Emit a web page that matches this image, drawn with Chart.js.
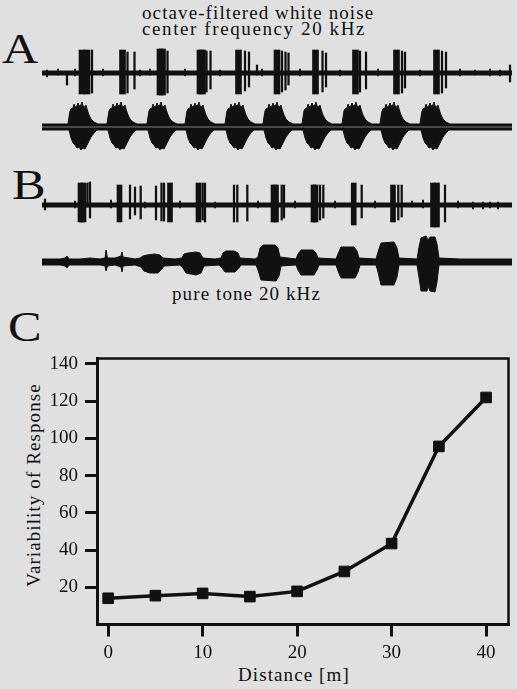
<!DOCTYPE html>
<html><head><meta charset="utf-8">
<script src="https://cdn.jsdelivr.net/npm/chart.js@4"></script>
<style>
html,body{margin:0;padding:0;background:#e0e0e0;}
#page{position:relative;width:517px;height:689px;overflow:hidden;background:#e0e0e0;font-family:"Liberation Serif",serif;color:#111;}
canvas{position:absolute;left:0;}
.t{position:absolute;white-space:nowrap;font-size:19px;line-height:19px;letter-spacing:1.1px;}
.big{position:absolute;font-size:42px;line-height:42px;transform:scaleX(1.2);transform-origin:0 0;}
</style></head>
<body><div id="page">
<div class="t" style="left:142px;top:3px">octave-filtered white noise</div>
<div class="t" style="left:142px;top:19px;letter-spacing:1.6px">center frequency 20 kHz</div>
<div class="big" style="left:2px;top:28px">A</div>
<div class="big" style="left:12px;top:164px">B</div>
<div class="t" style="left:172px;top:284px">pure tone 20 kHz</div>
<div class="big" style="left:8px;top:306px">C</div>
<div class="t" style="left:238px;top:665px">Distance [m]</div>
<div class="t" style="left:32.6px;top:484.5px;transform:translate(-50%,-50%) rotate(-90deg)">Variability of Response</div>
<canvas id="a1" width="517" height="56" style="top:44px"></canvas>
<canvas id="a2" width="517" height="65" style="top:95px"></canvas>
<canvas id="b1" width="517" height="60" style="top:175px"></canvas>
<canvas id="b2" width="517" height="72" style="top:228px"></canvas>
<canvas id="c" width="517" height="349" style="top:340px"></canvas>
</div>
<script>
// ---- Panel C data ----
const distances = [0, 5, 10, 15, 20, 25, 30, 35, 40];
const variability = [14.1, 15.5, 16.7, 15.0, 17.8, 28.5, 43.5, 95.7, 122];
const xTickValues = [0, 10, 20, 30, 40];
const yTickValues = [20, 40, 60, 80, 100, 120, 140];

// ---- Trace A1 (white noise, spike response): [time, low, high] ----
const a1Blocks = [[82,-21,23],[87,-21,23],[122.5,-21,23],[160,-22,24],[162.5,-22,24],[200,-21,23],[202.5,-21,23],[238.5,-21,23],[277,-21,23],[315.5,-21,23],[355.5,-21,23],[396.5,-21,23],[436.5,-21,23]];
const a1Spikes = [[67,-12,1],[92,-20,23],[127.5,-20,21],[134.5,-16,21],[167.5,-20,22],[206.5,-19,22],[210.5,-16,22],[245,-18,22],[249,-14,21],[257,-2,8],[282,-19,22],[285.5,-17,21],[288.5,-12,20],[322.5,-19,22],[326,-14,20],[360,-19,22],[366,-16,21],[402,-20,22],[405,-15,21],[442,-20,22],[446,-15,21],[510,-9,8]];
const a1Noise = [[47,-4,3],[58,-2,4],[75,-3,4],[103,-3,4],[140,-3,3],[150,-2,4],[185,-3,4],[220,-3,3],[262,-3,4],[300,-3,4],[340,-3,3],[378,-3,4],[420,-3,3],[460,-3,4],[475,-2,3],[490,-3,4],[500,-3,3]];

// ---- Trace A2 (white noise stimulus envelope) ----
const a2Onsets = [68, 107, 147, 185, 225, 263, 302, 342, 380, 420];
const a2UpperShape = [[0,3],[1,10],[2,16],[3,18],[5,19],[6,23],[7,20],[9,21],[10,24],[11,21],[13,22],[14,25],[15,21],[17,20],[18,22],[19,18],[21,12],[23,8],[26,5],[30,3]];
const a2LowerShape = [[0,-3],[2,-11],[4,-16],[6,-18],[8,-21],[10,-20],[12,-23],[14,-21],[16,-22],[18,-18],[20,-14],[22,-10],[25,-6],[28,-3]];

// ---- Trace B1 (pure tone, spike response) ----
const b1Blocks = [[80.5,-17,22],[83.5,-17,22],[119.5,-17,20],[170,-17,22],[198.5,-17,22],[273.5,-17,20],[276,-17,20],[313.5,-17,20],[315.5,-17,20],[353.7,-20,22],[393,-17,20],[433,-22,22],[437,-22,22]];
const b1Spikes = [[45,-5,6],[87.5,-2,22],[90,-13,23],[130,-14,20],[135,-10,18],[140.7,-14,19],[156,-15,19],[161.5,-16,22],[164,-16,22],[202.7,-15,22],[205,-17,22],[234,-17,20],[237.3,-17,20],[247.3,-16,20],[281.7,-15,20],[284,-13,20],[320,-15,20],[323.3,-13,20],[361.7,-13,20],[398.3,-15,20],[401.7,-12,20],[445,-17,20]];
const b1Noise = [[75,-3,4],[111,-3,5],[145,-3,3],[180,-3,4],[215,-3,3],[258,-3,4],[295,-3,4],[335,-3,4],[375,-3,4],[412,-2,4],[423,-3,5],[458,-3,4],[473,-4,3],[483,-4,3],[490,-3,3],[498,-4,3]];

// ---- Trace B2 (pure tone stimulus envelope): [time, amplitude] ----
const b2Upper = [[42,3],[60,3],[65,4],[67,6],[69,3],[80,3],[90,4],[100,3],[105,4],[106,12],[107.5,4],[115,4],[121,6],[122,10],[123,5],[135,3],[140,4],[143,6],[147,7],[155,8],[160,7],[163,4],[175,3],[182,4],[184,8],[188,9],[196,10],[200,9],[203,4],[215,3],[221,4],[223,9],[226,11],[234,11],[238,9],[240,4],[255,3],[258,5],[260,14],[263,17],[275,17],[278,14],[280,5],[296,3],[298,8],[301,12],[313,12],[316,9],[318,4],[336,3],[338,8],[341,15],[354,15],[357,11],[359,4],[376,3],[378,10],[381,19],[394,20],[397,14],[399,4],[417,3],[419,15],[421,24],[426,26],[428,22],[430,25],[435,25],[437,18],[439,4],[460,3],[512,3]];
const b2Lower = [[42,-3],[60,-3],[65,-4],[67,-6],[69,-3],[100,-3],[105,-4],[106,-9],[107.5,-4],[115,-3],[121,-5],[122,-10],[123,-4],[135,-3],[141,-5],[144,-9],[150,-11],[158,-11],[162,-7],[164,-4],[180,-3],[183,-6],[186,-11],[196,-13],[201,-11],[204,-4],[219,-3],[222,-6],[225,-10],[235,-10],[239,-6],[241,-3],[256,-3],[258,-8],[261,-18],[276,-19],[279,-14],[281,-4],[296,-3],[298,-8],[301,-13],[314,-13],[317,-8],[319,-3],[336,-3],[338,-9],[341,-16],[355,-16],[358,-10],[360,-3],[376,-3],[378,-10],[381,-23],[394,-23],[397,-15],[399,-3],[417,-3],[419,-15],[421,-29],[427,-29],[428,-24],[430,-29],[435,-30],[437,-20],[439,-3],[512,-3]];

const INK = '#111';
Chart.defaults.font.family = '"Liberation Serif", serif';
Chart.defaults.color = INK;

function bars(list, thickness) {
  return { type: 'bar', data: list.map(([x, lo, hi]) => ({ x, y: [lo, hi] })),
    barThickness: thickness, grouped: false, backgroundColor: INK, borderWidth: 0 };
}
function hline(from, to, width, color) {
  return { type: 'line', data: [{ x: from, y: 0 }, { x: to, y: 0 }], borderColor: color,
    borderWidth: width, pointRadius: 0, fill: false };
}
function envelope(points) {
  return { type: 'line', data: points.map(([x, y]) => ({ x, y })), borderColor: INK,
    backgroundColor: INK, borderWidth: 1, pointRadius: 0, tension: 0, fill: 'origin' };
}
function traceChart(id, datasets, yMin, yMax) {
  return new Chart(document.getElementById(id), {
    type: 'bar',
    data: { datasets },
    options: {
      responsive: false, animation: false, events: [],
      layout: { padding: 0 },
      plugins: { legend: { display: false }, tooltip: { enabled: false } },
      scales: {
        x: { type: 'linear', min: 0, max: 517, offset: false, display: false },
        y: { min: yMin, max: yMax, display: false }
      }
    }
  });
}

function blobTrace(onsets, shape, base) {
  const pts = [[42, base]];
  onsets.forEach(o => shape.forEach(([dx, a]) => pts.push([o + dx, a])));
  pts.push([512, base]);
  return pts;
}

traceChart('a1', [hline(42, 512, 5, INK), bars(a1Blocks, 6), bars(a1Spikes, 1.6), bars(a1Noise, 1.3)], -27, 29);
traceChart('a2', [hline(42, 512, 0.8, '#9a9a9a'),
  envelope(blobTrace(a2Onsets, a2UpperShape, 3)),
  envelope(blobTrace(a2Onsets.map(o => o + 1), a2LowerShape, -3))], -33, 32);
traceChart('b1', [hline(42, 512, 5, INK), bars(b1Blocks, 5), bars(b1Spikes, 1.6), bars(b1Noise, 1.3)], -30, 30);
traceChart('b2', [envelope(b2Upper), envelope(b2Lower)], -38, 34);

const framePlugin = {
  id: 'frame',
  beforeDatasetsDraw(chart) {
    const { ctx, chartArea: a } = chart;
    ctx.save();
    ctx.strokeStyle = INK; ctx.lineWidth = 2.5;
    ctx.beginPath();
    ctx.moveTo(a.left, a.top); ctx.lineTo(a.right, a.top); ctx.lineTo(a.right, a.bottom);
    ctx.stroke();
    ctx.restore();
  }
};

const tickFont = { family: '"Liberation Serif", serif', size: 19 };
new Chart(document.getElementById('c'), {
  type: 'line',
  data: {
    datasets: [{
      data: distances.map((d, i) => ({ x: d, y: variability[i] })),
      borderColor: INK, backgroundColor: INK, borderWidth: 3.5,
      pointStyle: 'rect', pointRadius: 7.5, pointBorderWidth: 1,
      pointBackgroundColor: INK, pointBorderColor: INK, tension: 0, fill: false
    }]
  },
  options: {
    responsive: false, animation: false, events: [],
    layout: { padding: { top: 17, right: 1.5, left: 0, bottom: 0 } },
    plugins: { legend: { display: false }, tooltip: { enabled: false } },
    scales: {
      x: {
        type: 'linear', min: -1.18, max: 42.37,
        afterBuildTicks: s => { s.ticks = xTickValues.map(v => ({ value: v })); },
        afterFit: s => { s.height = 64.5; },
        grid: { drawOnChartArea: false, drawTicks: true, tickLength: 12, lineWidth: 3, color: INK },
        border: { display: true, width: 3, color: INK },
        ticks: { font: tickFont, color: INK, padding: 5, maxRotation: 0, autoSkip: false }
      },
      y: {
        type: 'linear', min: 0, max: 143,
        afterBuildTicks: s => { s.ticks = yTickValues.map(v => ({ value: v })); },
        afterFit: s => { s.width = 97; },
        grid: { drawOnChartArea: false, drawTicks: true, tickLength: 12, lineWidth: 3, color: INK },
        border: { display: true, width: 3, color: INK },
        ticks: { font: tickFont, color: INK, padding: 7, autoSkip: false }
      }
    }
  },
  plugins: [framePlugin]
});
</script>
</body></html>
